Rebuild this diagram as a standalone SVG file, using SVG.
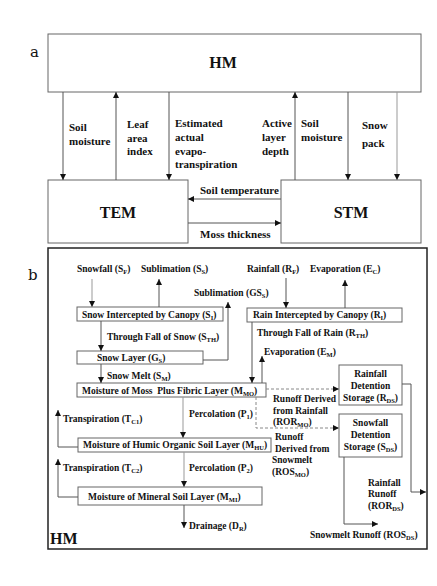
<svg xmlns="http://www.w3.org/2000/svg" width="437" height="586" viewBox="0 0 437 586">
<style>
text{font-family:"Liberation Serif","Times New Roman",serif;font-weight:bold;fill:#111}
.t{font-size:11px}
.s{font-size:9.5px}
.big{font-size:16px}
.lbl{font-family:"DejaVu Serif",serif;font-weight:normal;font-size:15px}
.box{fill:#fff;stroke:#666;stroke-width:1}
.frame{fill:none;stroke:#222;stroke-width:1.5}
.ln{fill:none;stroke:#555;stroke-width:1}
.lg{fill:none;stroke:#999;stroke-width:1}
.dash{fill:none;stroke:#888;stroke-width:1;stroke-dasharray:3,2}
.sub{font-size:6.5px}
.c{text-anchor:middle}
</style>
<defs>
<marker id="ah" viewBox="0 0 10 10" refX="10" refY="5" markerWidth="6" markerHeight="6" markerUnits="userSpaceOnUse" orient="auto"><path d="M0,0L10,5L0,10z" fill="#111"/></marker>
</defs>

<text class="lbl" x="30" y="57">a</text>
<text class="lbl" x="28" y="280">b</text>

<!-- Part a nodes -->
<g id="hm-a"><rect class="box" x="48" y="34" width="373" height="58"/><text class="big c" x="223" y="68">HM</text></g>
<g id="tem"><rect class="box" x="48" y="180" width="140" height="63"/><text class="big c" x="118" y="218">TEM</text></g>
<g id="stm"><rect class="box" x="281" y="180" width="140" height="63"/><text class="big c" x="351" y="218">STM</text></g>

<!-- Part b frame -->
<g id="hm-b"><rect class="frame" x="48" y="248" width="379" height="301"/><text class="big" x="50" y="544">HM</text></g>

<!-- Part b nodes -->
<g id="snow-int"><rect class="box" x="77" y="307" width="146" height="14"/><text class="s" x="82" y="318">Snow Intercepted by Canopy (S<tspan class="sub" dy="2">I</tspan><tspan dy="-2">)</tspan></text></g>
<g id="snow-layer"><rect class="box" x="77" y="351" width="126" height="13"/><text class="s" x="97" y="361">Snow Layer (G<tspan class="sub" dy="2">S</tspan><tspan dy="-2">)</tspan></text></g>
<g id="moss"><rect class="box" x="77" y="383" width="189" height="14"/><text class="s" x="82" y="394">Moisture of Moss&#160; Plus Fibric Layer (M<tspan class="sub" dy="2">MO</tspan><tspan dy="-2">)</tspan></text></g>
<g id="rain-int"><rect class="box" x="247" y="308" width="155" height="14"/><text class="s" x="253" y="318">Rain Intercepted by Canopy (R<tspan class="sub" dy="2">I</tspan><tspan dy="-2">)</tspan></text></g>
<g id="humic"><rect class="box" x="78" y="438" width="193" height="14"/><text class="s" x="83" y="448">Moisture of Humic Organic Soil Layer (M<tspan class="sub" dy="2">HU</tspan><tspan dy="-2">)</tspan></text></g>
<g id="mineral"><rect class="box" x="78" y="487" width="184" height="18"/><text class="s" x="88" y="500">Moisture of Mineral Soil Layer (M<tspan class="sub" dy="2">MI</tspan><tspan dy="-2">)</tspan></text></g>
<g id="rain-det"><rect class="box" x="339" y="365" width="63" height="40"/>
<text class="s c" x="370.5" y="377">Rainfall</text><text class="s c" x="370.5" y="389">Detention</text><text class="s c" x="370.5" y="401">Storage (R<tspan class="sub" dy="2">DS</tspan><tspan dy="-2">)</tspan></text></g>
<g id="snow-det"><rect class="box" x="339" y="414" width="63" height="43"/>
<text class="s c" x="370.5" y="426">Snowfall</text><text class="s c" x="370.5" y="438">Detention</text><text class="s c" x="370.5" y="450">Storage (S<tspan class="sub" dy="2">DS</tspan><tspan dy="-2">)</tspan></text></g>

<!-- Connectors -->
<g id="connectors">
<path class="ln" d="M63,92V180" marker-end="url(#ah)"/>
<path class="ln" d="M116,180V92" marker-end="url(#ah)"/>
<path class="ln" d="M169,92V180" marker-end="url(#ah)"/>
<path class="ln" d="M295,180V92" marker-end="url(#ah)"/>
<path class="ln" d="M348,92V180" marker-end="url(#ah)"/>
<path class="lg" d="M397,92V180" marker-end="url(#ah)"/>
<path class="ln" d="M281,199H188" marker-end="url(#ah)"/>
<path class="ln" d="M188,223H281" marker-end="url(#ah)"/>

<path class="lg" d="M92,279V307" marker-end="url(#ah)"/>
<path class="ln" d="M159,307V279" marker-end="url(#ah)"/>
<path class="ln" d="M101,321V351" marker-end="url(#ah)"/>
<path class="ln" d="M203,360H228V302" marker-end="url(#ah)"/>
<path class="ln" d="M101,364V383" marker-end="url(#ah)"/>
<path class="ln" d="M286,278V308" marker-end="url(#ah)"/>
<path class="ln" d="M345,308V280" marker-end="url(#ah)"/>
<path class="ln" d="M252,322V383" marker-end="url(#ah)"/>
<path class="ln" d="M262,383V356" marker-end="url(#ah)"/>
<path class="dash" d="M266,389H339" marker-end="url(#ah)"/>
<path class="dash" d="M256,397V428H339" marker-end="url(#ah)"/>
<path class="lg" d="M183,397V438" marker-end="url(#ah)"/>
<path class="ln" d="M78,447H58V410" marker-end="url(#ah)"/>
<path class="lg" d="M184,452V487" marker-end="url(#ah)"/>
<path class="ln" d="M78,497H58V459" marker-end="url(#ah)"/>
<path class="ln" d="M184,505V528" marker-end="url(#ah)"/>
<path class="ln" d="M402,384H411V492H426" marker-end="url(#ah)"/>
<path class="ln" d="M344,457V524H378" marker-end="url(#ah)"/>
</g>

<!-- Connector labels part a -->
<g id="labels-a">
<text class="t" x="69" y="131">Soil</text><text class="t" x="69" y="145">moisture</text>
<text class="t" x="127" y="128">Leaf</text><text class="t" x="127" y="142">area</text><text class="t" x="127" y="155">index</text>
<text class="t" x="175" y="127">Estimated</text><text class="t" x="175" y="141">actual</text><text class="t" x="175" y="155">evapo-</text><text class="t" x="175" y="168">transpiration</text>
<text class="t" x="262" y="127">Active</text><text class="t" x="262" y="141">layer</text><text class="t" x="262" y="155">depth</text>
<text class="t" x="301" y="127">Soil</text><text class="t" x="301" y="141">moisture</text>
<text class="t" x="362" y="129">Snow</text><text class="t" x="362" y="147">pack</text>
<text class="t" x="200" y="194">Soil temperature</text>
<text class="t" x="200" y="238">Moss thickness</text>
</g>

<!-- Connector labels part b -->
<g id="labels-b">
<text class="s" x="77" y="272">Snowfall (S<tspan class="sub" dy="2">F</tspan><tspan dy="-2">)</tspan></text>
<text class="s" x="141" y="272">Sublimation (S<tspan class="sub" dy="2">S</tspan><tspan dy="-2">)</tspan></text>
<text class="s" x="194" y="296">Sublimation (GS<tspan class="sub" dy="2">S</tspan><tspan dy="-2">)</tspan></text>
<text class="s" x="247" y="272">Rainfall (R<tspan class="sub" dy="2">F</tspan><tspan dy="-2">)</tspan></text>
<text class="s" x="310" y="272">Evaporation (E<tspan class="sub" dy="2">C</tspan><tspan dy="-2">)</tspan></text>
<text class="s" x="107" y="340">Through Fall of Snow (S<tspan class="sub" dy="2">TH</tspan><tspan dy="-2">)</tspan></text>
<text class="s" x="257" y="336">Through Fall of Rain (R<tspan class="sub" dy="2">TH</tspan><tspan dy="-2">)</tspan></text>
<text class="s" x="264" y="355">Evaporation (E<tspan class="sub" dy="2">M</tspan><tspan dy="-2">)</tspan></text>
<text class="s" x="107" y="379">Snow Melt (S<tspan class="sub" dy="2">M</tspan><tspan dy="-2">)</tspan></text>
<text class="s" x="273" y="402">Runoff Derived</text><text class="s" x="273" y="414">from Rainfall</text><text class="s" x="273" y="425">(ROR<tspan class="sub" dy="2">MO</tspan><tspan dy="-2">)</tspan></text>
<text class="s" x="189" y="417">Percolation (P<tspan class="sub" dy="2">1</tspan><tspan dy="-2">)</tspan></text>
<text class="s" x="63" y="422">Transpiration (T<tspan class="sub" dy="2">C1</tspan><tspan dy="-2">)</tspan></text>
<text class="s" x="275" y="440">Runoff</text><text class="s" x="275" y="452">Derived from</text><text class="s" x="272" y="463">Snowmelt</text><text class="s" x="272" y="475">(ROS<tspan class="sub" dy="2">MO</tspan><tspan dy="-2">)</tspan></text>
<text class="s" x="189" y="471">Percolation (P<tspan class="sub" dy="2">2</tspan><tspan dy="-2">)</tspan></text>
<text class="s" x="63" y="471">Transpiration (T<tspan class="sub" dy="2">C2</tspan><tspan dy="-2">)</tspan></text>
<text class="s" x="189" y="529">Drainage (D<tspan class="sub" dy="2">R</tspan><tspan dy="-2">)</tspan></text>
<text class="s" x="368" y="486">Rainfall</text><text class="s" x="368" y="497">Runoff</text><text class="s" x="368" y="509">(ROR<tspan class="sub" dy="2">DS</tspan><tspan dy="-2">)</tspan></text>
<text class="s" x="310" y="538">Snowmelt Runoff (ROS<tspan class="sub" dy="2">DS</tspan><tspan dy="-2">)</tspan></text>
</g>
</svg>
